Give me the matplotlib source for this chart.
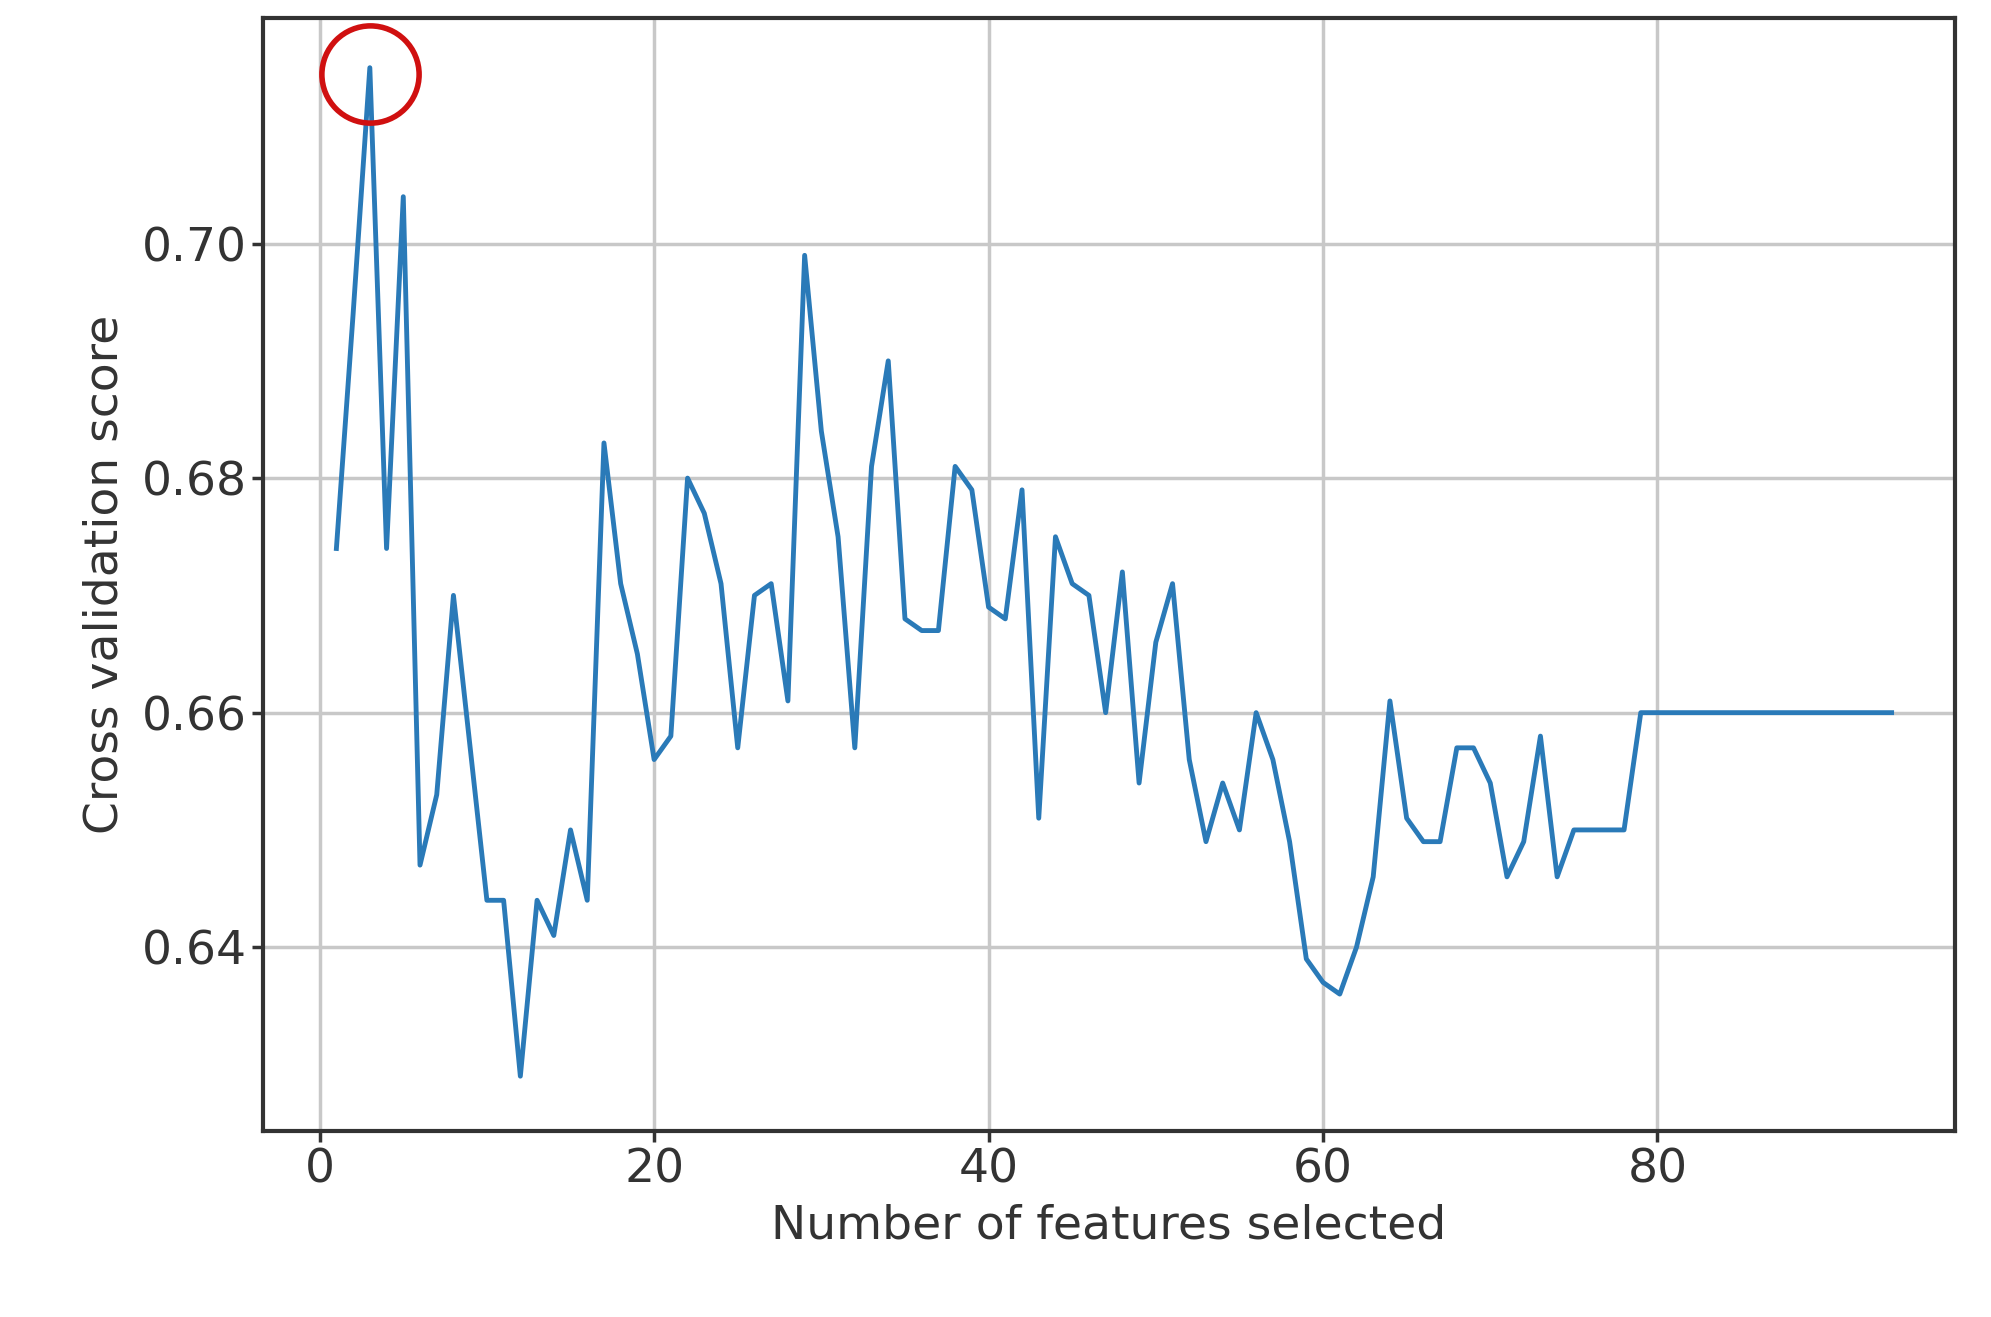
import matplotlib
matplotlib.use('Agg')
from matplotlib import pyplot as plt

# Cross validation score per number of selected features
n_features = list(range(1, 95))
scores = [
    0.674, 0.694, 0.715, 0.674, 0.704, 0.647, 0.653, 0.670, 0.657, 0.644,
    0.644, 0.629, 0.644, 0.641, 0.650, 0.644, 0.683, 0.671, 0.665, 0.656,
    0.658, 0.680, 0.677, 0.671, 0.657, 0.670, 0.671, 0.661, 0.699, 0.684,
    0.675, 0.657, 0.681, 0.690, 0.668, 0.667, 0.667, 0.681, 0.679, 0.669,
    0.668, 0.679, 0.651, 0.675, 0.671, 0.670, 0.660, 0.672, 0.654, 0.666,
    0.671, 0.656, 0.649, 0.654, 0.650, 0.660, 0.656, 0.649, 0.639, 0.637,
    0.636, 0.640, 0.646, 0.661, 0.651, 0.649, 0.649, 0.657, 0.657, 0.654,
    0.646, 0.649, 0.658, 0.646, 0.650, 0.650, 0.650, 0.650, 0.660,
] + [0.660] * 15
best_x, best_y = 3, 0.7145

fig = plt.figure(figsize=(19.91, 13.17), dpi=100)
ax = fig.add_axes([0.132, 0.141, 0.85, 0.845])
ax.plot(n_features, scores, color='#2a7ab8', lw=3.5)
ax.plot([best_x], [best_y], marker='o', ms=70, mfc='none', mec='#d01010', mew=4)

ax.set_xlim(-3.4, 97.8)
ax.set_ylim(0.6243, 0.7192)
ax.set_xticks([0, 20, 40, 60, 80])
ax.set_yticks([0.64, 0.66, 0.68, 0.70])
ax.set_yticklabels(['0.64', '0.66', '0.68', '0.70'])
ax.grid(True, color='#c8c8c8', lw=2.5)
ax.tick_params(labelsize=34, width=2.5, length=8, colors='#333333')
for s in ax.spines.values():
    s.set_linewidth(3)
    s.set_color('#333333')
ax.set_xlabel('Number of features selected', fontsize=34, color='#333333', labelpad=8)
ax.set_ylabel('Cross validation score', fontsize=34, color='#333333', labelpad=10)

fig.savefig('out.png', dpi=100)
